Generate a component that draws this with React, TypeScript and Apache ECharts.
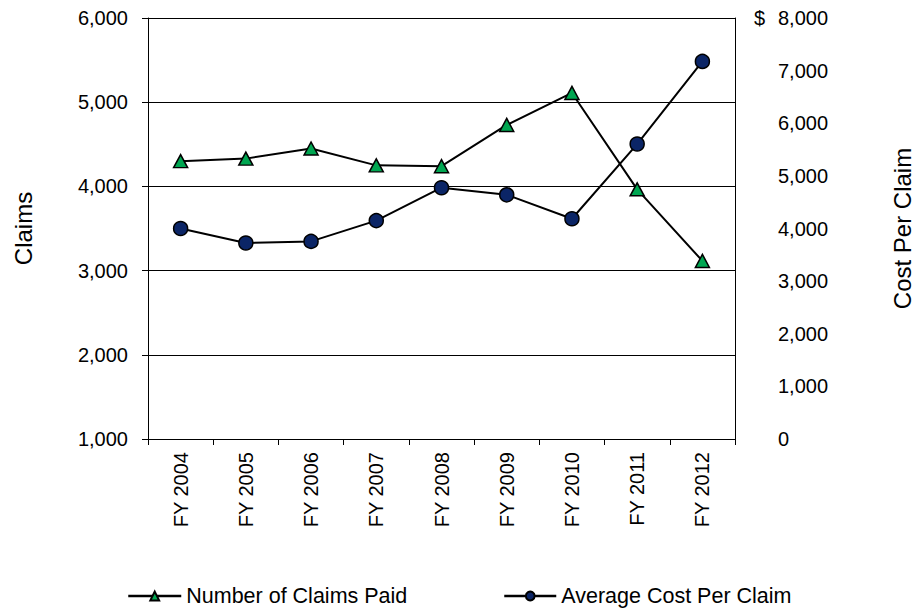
import React, { useEffect, useRef } from "react";
import * as echarts from "echarts";

const categories = ["FY 2004", "FY 2005", "FY 2006", "FY 2007", "FY 2008", "FY 2009", "FY 2010", "FY 2011", "FY 2012"];
const claimsPaid = [4300, 4330, 4450, 4250, 4240, 4730, 5110, 3965, 3115];
const avgCost = [4000, 3725, 3755, 4150, 4775, 4640, 4185, 5605, 7175];
const seriesNames = ["Number of Claims Paid", "Average Cost Per Claim"];
const leftAxisTitle = "Claims";
const rightAxisTitle = "Cost Per Claim";

const FONT = "'Liberation Sans', Arial, sans-serif";

function fmt(v: number): string {
  return v.toLocaleString("en-US");
}

export default function App() {
  const ref = useRef<HTMLDivElement>(null);
  useEffect(() => {
    if (!ref.current) return;
    const chart = echarts.init(ref.current, undefined, { renderer: "svg" });
    const legendText = { fontSize: 21.5, lineHeight: 22, color: "#000", fontFamily: FONT };
    chart.setOption({
      animation: false,
      backgroundColor: "#ffffff",
      textStyle: { fontFamily: FONT, color: "#000" },
      grid: { left: 148, right: 173, top: 18, bottom: 172, containLabel: false },
      legend: [
        {
          data: [seriesNames[0]],
          left: 127,
          top: 585,
          padding: 0,
          itemWidth: 53,
          itemHeight: 11,
          lineStyle: { width: 2.5 },
          textStyle: legendText,
        },
        {
          data: [seriesNames[1]],
          left: 503,
          top: 585,
          padding: 0,
          itemWidth: 52,
          itemHeight: 11,
          lineStyle: { width: 2.5 },
          textStyle: legendText,
        },
      ],
      xAxis: {
        type: "category",
        data: categories,
        boundaryGap: true,
        axisLine: { show: true, lineStyle: { color: "#000", width: 1 } },
        axisTick: { show: true, length: 6, alignWithLabel: false, lineStyle: { color: "#000" } },
        axisLabel: { rotate: 90, margin: 13, fontSize: 20, color: "#000", fontFamily: FONT },
        splitLine: { show: false },
      },
      yAxis: [
        {
          type: "value",
          min: 1000,
          max: 6000,
          interval: 1000,
          position: "left",
          name: leftAxisTitle,
          nameLocation: "middle",
          nameRotate: 90,
          nameGap: 113,
          nameTextStyle: { fontSize: 24, color: "#000", fontFamily: FONT },
          axisLine: { show: true, lineStyle: { color: "#000", width: 1 } },
          axisTick: { show: true, length: 6, lineStyle: { color: "#000" } },
          axisLabel: { margin: 20, fontSize: 20, color: "#000", fontFamily: FONT, formatter: (v: number) => fmt(v) },
          splitLine: { show: true, lineStyle: { color: "#000", width: 1 } },
        },
        {
          type: "value",
          min: 0,
          max: 8000,
          interval: 1000,
          position: "right",
          name: rightAxisTitle,
          nameLocation: "middle",
          nameRotate: 90,
          nameGap: 155,
          nameTextStyle: { fontSize: 24, color: "#000", fontFamily: FONT },
          axisLine: { show: true, lineStyle: { color: "#000", width: 1 } },
          axisTick: { show: false },
          axisLabel: {
            margin: 19,
            fontSize: 20,
            color: "#000",
            fontFamily: FONT,
            align: "left",
            formatter: (v: number) => (v === 8000 ? `{d|$}{v|${fmt(v)}}` : `{d| }{v|${fmt(v)}}`),
            rich: {
              d: { width: 24, fontSize: 20, color: "#000", fontFamily: FONT, align: "left" },
              v: { fontSize: 20, color: "#000", fontFamily: FONT },
            },
          },
          splitLine: { show: false },
        },
      ],
      series: [
        {
          name: seriesNames[0],
          type: "line",
          yAxisIndex: 0,
          data: claimsPaid,
          symbol: "triangle",
          symbolSize: [14, 13],
          lineStyle: { color: "#000", width: 2 },
          itemStyle: { color: "#00a651", borderColor: "#000", borderWidth: 1.5 },
          emphasis: { disabled: true },
          z: 3,
        },
        {
          name: seriesNames[1],
          type: "line",
          yAxisIndex: 1,
          data: avgCost,
          symbol: "circle",
          symbolSize: 14,
          lineStyle: { color: "#000", width: 2 },
          itemStyle: { color: "#0b2566", borderColor: "#000", borderWidth: 1.5 },
          emphasis: { disabled: true },
          z: 2,
        },
      ],
    });
    return () => chart.dispose();
  }, []);
  return (
    <div
      ref={ref}
      style={{ position: "fixed", left: 0, top: 0, width: 922, height: 611, background: "#fff" }}
    />
  );
}
